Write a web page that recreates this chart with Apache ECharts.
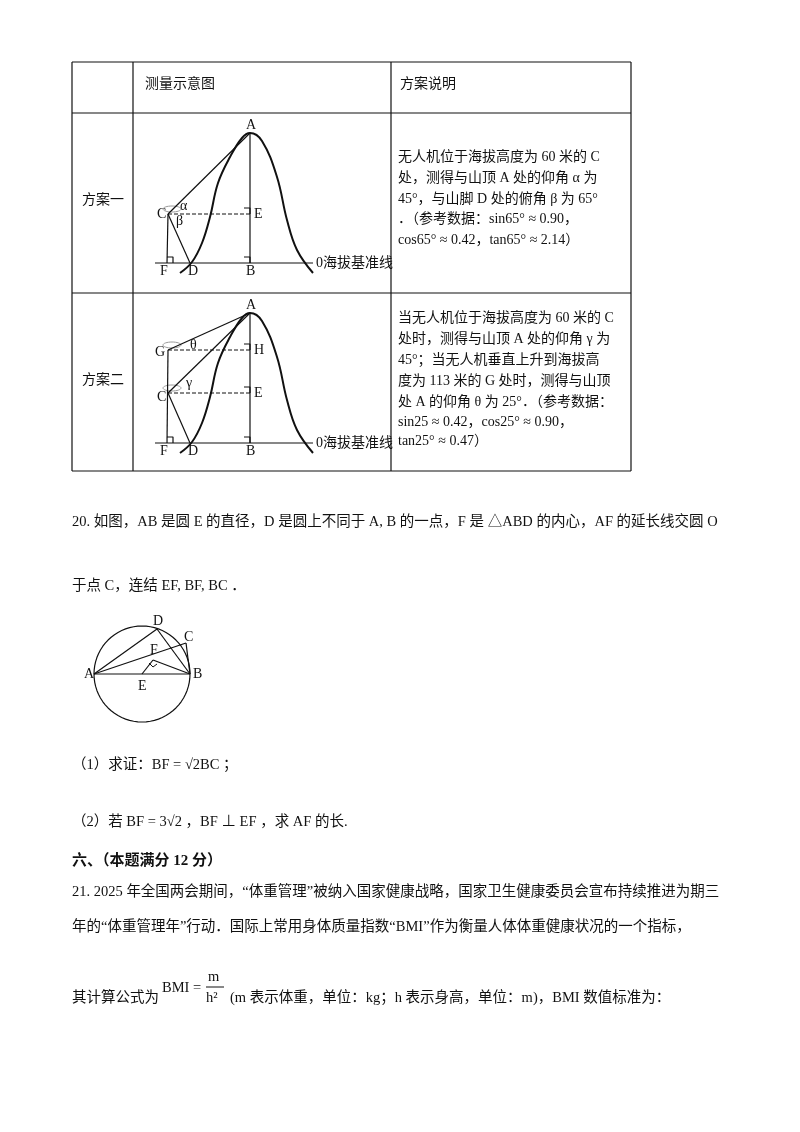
<!DOCTYPE html>
<html lang="zh">
<head>
<meta charset="UTF-8">
<title>测量示意图</title>
<script src="https://cdn.jsdelivr.net/npm/echarts@6/dist/echarts.min.js"></script>
<style>html,body{margin:0;height:100%;background:#fff;}</style>
</head>
<body>
<div id="chart" style="width:800px;height:1132px"></div>
<script>
// 山的轮廓（方案一），方案二向下平移
var mountain = [[180,273],[192,262],[202,243],[210,217],[218,183],[230,157],[242,138],[250,133],[262,141],[277,177],[287,220],[297,250],[313,273]];
var shift2 = 180;
// 方案一各点
var p1 = {A:[250,133], B:[250,263], C:[168,214], D:[190,263], E:[250,214], F:[167,263]};
// 方案二各点
var p2 = {A:[250,313], B:[250,443], C:[168,393], D:[190,443], E:[250,393], F:[167,443], G:[168,350], H:[250,350]};
// 圆
var circ = {E:[142,674], r:48, A:[94,674], B:[190,674], C:[186,643], D:[157,629], F:[153,660]};

var FONT = '"Liberation Serif","Noto Sans CJK SC",serif';
var series = [];
function seg(pts, dashed, w) {
  series.push({type:'line', data:pts, symbol:'none', silent:true, animation:false,
    lineStyle:{color:'#111', width:w||1.2, type:dashed?'dashed':'solid'}});
}
function curve(pts) {
  series.push({type:'line', data:pts, symbol:'none', smooth:0.4, silent:true, animation:false,
    lineStyle:{color:'#111', width:2}});
}
function rightAngle(x, y) { seg([[x,y-6],[x+6,y-6],[x+6,y]]); }

// 表格
var tX = [72,133,391,631], tY = [62,113,293,471];
tY.forEach(function(y){ seg([[tX[0],y],[tX[3],y]], false, 1.2); });
tX.forEach(function(x){ seg([[x,tY[0]],[x,tY[3]]], false, 1.2); });

// 方案一
curve(mountain);
seg([[155,263],[313,263]]);
seg([p1.C,p1.F]); seg([p1.A,p1.B]); seg([p1.C,p1.A]); seg([p1.C,p1.D]);
seg([p1.C,p1.E], true, 1);
rightAngle(p1.F[0],p1.F[1]); rightAngle(p1.B[0]-6,p1.B[1]); rightAngle(p1.E[0]-6,p1.E[1]);

// 方案二
curve(mountain.map(function(p){return [p[0],p[1]+shift2];}));
seg([[155,443],[313,443]]);
seg([p2.G,p2.F]); seg([p2.A,p2.B]); seg([p2.G,p2.A]); seg([p2.C,p2.A]); seg([p2.C,p2.D]);
seg([p2.G,p2.H], true, 1); seg([p2.C,p2.E], true, 1);
rightAngle(p2.F[0],p2.F[1]); rightAngle(p2.B[0]-6,p2.B[1]); rightAngle(p2.E[0]-6,p2.E[1]); rightAngle(p2.H[0]-6,p2.H[1]);

// 圆
var circle = [];
for (var i = 0; i <= 72; i++) { var t = i*5*Math.PI/180; circle.push([circ.E[0]+circ.r*Math.cos(t), circ.E[1]+circ.r*Math.sin(t)]); }
seg(circle);
seg([circ.A,circ.B]); seg([circ.A,circ.D]); seg([circ.D,circ.B]); seg([circ.A,circ.C]);
seg([circ.C,circ.B]); seg([circ.F,circ.B]); seg([circ.E,circ.F]);
seg([[149,663],[153,667],[157,664]], false, 1);

var texts = [
  ['测量示意图',145,84],['方案说明',400,84],['方案一',82,200],['方案二',82,380],
  ['A',246,125],['E',254,214],['F',160,271],['D',188,271],['B',246,271],['C',157,214],['0海拔基准线',316,263],
  ['A',246,305],['H',254,350],['G',155,352],['E',254,393],['C',157,397],['F',160,451],['D',188,451],['B',246,451],['0海拔基准线',316,443],
  ['α',180,206],['β',176,221],['θ',190,345],['γ',186,383],
  ['无人机位于海拔高度为 60 米的 C',398,157],['处，测得与山顶 A 处的仰角 α 为',398,178],['45°，与山脚 D 处的俯角 β 为 65°',398,199],
  ['．（参考数据：sin65° ≈ 0.90，',398,219],['cos65° ≈ 0.42，tan65° ≈ 2.14）',398,240],
  ['当无人机位于海拔高度为 60 米的 C',398,318],['处时，测得与山顶 A 处的仰角 γ 为',398,339],['45°；当无人机垂直上升到海拔高',398,360],
  ['度为 113 米的 G 处时，测得与山顶',398,381],['处 A 的仰角 θ 为 25°．（参考数据：',398,402],['sin25 ≈ 0.42，cos25° ≈ 0.90，',398,422],['tan25° ≈ 0.47）',398,441],
  ['20. 如图，AB 是圆 E 的直径，D 是圆上不同于 A, B 的一点，F 是 △ABD 的内心，AF 的延长线交圆 O',72,522,14.5],
  ['于点 C，连结 EF, BF, BC ．',72,586,14.5],
  ['D',153,621],['C',184,637],['F',150,650],['A',84,674],['B',193,674],['E',138,686],
  ['（1）求证：BF = √2BC ；',72,765,14.5],
  ['（2）若 BF = 3√2 ，BF ⊥ EF ，求 AF 的长.',72,822,14.5],
  ['21. 2025 年全国两会期间，“体重管理”被纳入国家健康战略，国家卫生健康委员会宣布持续推进为期三',72,892,14.5],
  ['年的“体重管理年”行动．国际上常用身体质量指数“BMI”作为衡量人体体重健康状况的一个指标，',72,927,14.5],
  ['其计算公式为',72,998,14.5],['BMI =',162,988,14.5],['m',208,977,14.5],['h²',206,998,14.5],
  ['(m 表示体重，单位：kg；h 表示身高，单位：m)，BMI 数值标准为：',230,998,14.5]
];
var graphic = texts.map(function(t){
  return {type:'text', x:t[1], y:t[2], silent:true,
    style:{text:t[0], fill:'#111', font:(t[3]||14)+'px '+FONT, textVerticalAlign:'middle'}};
});
graphic.push({type:'text', x:72, y:861, style:{text:'六、（本题满分 12 分）', fill:'#111', font:'bold 15px '+FONT, textVerticalAlign:'middle'}});
graphic.push({type:'line', shape:{x1:206,y1:987,x2:224,y2:987}, style:{stroke:'#111',lineWidth:1}});
// 无人机
[[172,209],[172,345],[172,388]].forEach(function(p){
  graphic.push({type:'ellipse', shape:{cx:p[0],cy:p[1],rx:9,ry:3}, style:{fill:'none',stroke:'#999',lineWidth:1}});
});

var chart = echarts.init(document.getElementById('chart'));
chart.setOption({
  animation:false,
  grid:{left:0,right:0,top:0,bottom:0},
  xAxis:{type:'value',min:0,max:800,show:false},
  yAxis:{type:'value',min:0,max:1132,inverse:true,show:false},
  series:series,
  graphic:graphic
});
</script>
</body>
</html>
